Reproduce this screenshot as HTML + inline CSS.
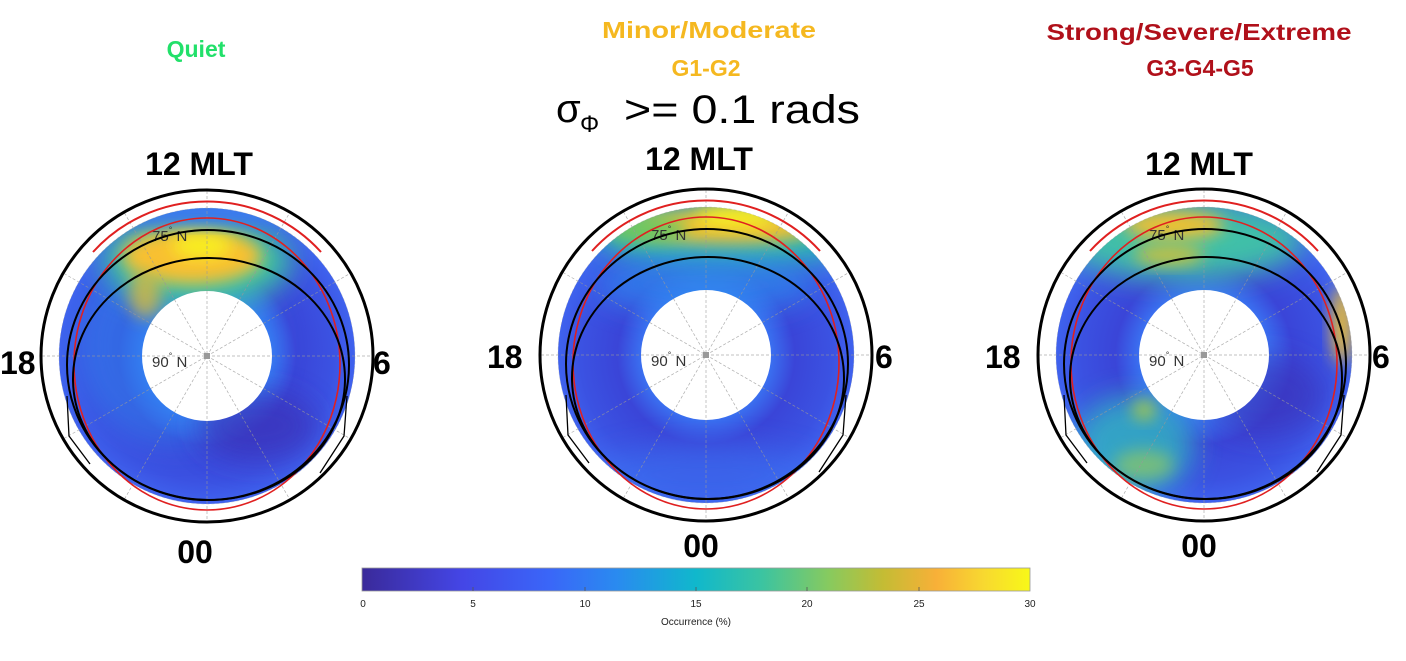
<!DOCTYPE html>
<html><head><meta charset="utf-8"><style>
html,body{margin:0;padding:0;background:#fff;}
svg{display:block;}
text{font-family:"Liberation Sans",sans-serif;}
</style></head><body>
<svg width="1406" height="661" viewBox="0 0 1406 661" xmlns="http://www.w3.org/2000/svg">
<defs>
  <mask id="ring">
    <rect x="-200" y="-200" width="400" height="400" fill="black"/>
    <circle r="148" fill="white"/>
    <circle r="65" fill="black"/>
  </mask>
  <filter id="b8" x="-50%" y="-50%" width="200%" height="200%"><feGaussianBlur stdDeviation="8"/></filter>
  <filter id="b14" x="-50%" y="-50%" width="200%" height="200%"><feGaussianBlur stdDeviation="14"/></filter>
  <radialGradient id="rad1" cx="0" cy="0" r="148" gradientUnits="userSpaceOnUse">
    <stop offset="0.44" stop-color="#3a6ff0"/>
    <stop offset="0.6" stop-color="#3a45d8"/>
    <stop offset="0.85" stop-color="#3b52e2"/>
    <stop offset="1" stop-color="#3f62ee"/>
  </radialGradient>
  <linearGradient id="cb" x1="0" x2="1" y1="0" y2="0">
    <stop offset="0" stop-color="#3a2a9a"/>
    <stop offset="0.15" stop-color="#4446e6"/>
    <stop offset="0.28" stop-color="#3a66f8"/>
    <stop offset="0.38" stop-color="#2a8af0"/>
    <stop offset="0.5" stop-color="#10b8cc"/>
    <stop offset="0.6" stop-color="#3cc4a0"/>
    <stop offset="0.7" stop-color="#88ca5e"/>
    <stop offset="0.78" stop-color="#c4bc34"/>
    <stop offset="0.86" stop-color="#f8b038"/>
    <stop offset="0.93" stop-color="#f8d830"/>
    <stop offset="1" stop-color="#f8f818"/>
  </linearGradient>
  <g id="over">
    <g stroke="#999" stroke-width="0.7" stroke-dasharray="3,2" fill="none" opacity="0.8">
      <line x1="-165" y1="0" x2="165" y2="0"/>
      <line x1="0" y1="-165" x2="0" y2="165"/>
      <line x1="-143" y1="-82.5" x2="143" y2="82.5"/>
      <line x1="-143" y1="82.5" x2="143" y2="-82.5"/>
      <line x1="-82.5" y1="-143" x2="82.5" y2="143"/>
      <line x1="-82.5" y1="143" x2="82.5" y2="-143"/>
      <circle r="148" opacity="0.5"/>
    </g>
    <rect x="-3" y="-3" width="6" height="6" fill="#999"/>
    <text x="-55" y="-115" font-size="15" fill="#333">75<tspan font-size="9" dy="-8">°</tspan><tspan dy="8"> N</tspan></text>
    <text x="-55" y="11" font-size="15" fill="#333">90<tspan font-size="9" dy="-8">°</tspan><tspan dy="8"> N</tspan></text>
    <ellipse cx="0" cy="8" rx="133" ry="146" fill="none" stroke="#e02020" stroke-width="1.6"/>
    <path d="M -114 -104 A 154 154 0 0 1 114 -104" fill="none" stroke="#e02020" stroke-width="2"/>
    <ellipse cx="1" cy="9" rx="141" ry="135" fill="none" stroke="#000" stroke-width="2"/>
    <ellipse cx="2" cy="23" rx="136" ry="121" fill="none" stroke="#000" stroke-width="2"/>
    <path d="M -140 40 L -138 80 L -117 108" fill="none" stroke="#000" stroke-width="1.3"/>
    <path d="M 140 40 L 137 80 L 113 117" fill="none" stroke="#000" stroke-width="1.3"/>
    <circle r="166" fill="none" stroke="#000" stroke-width="3"/>
  </g>
</defs>

<!-- Titles -->
<text x="196" y="57" font-size="23" font-weight="bold" fill="#22e06a" text-anchor="middle">Quiet</text>
<text x="709" y="38" font-size="23" font-weight="bold" fill="#f5b820" text-anchor="middle" textLength="214" lengthAdjust="spacingAndGlyphs">Minor/Moderate</text>
<text x="706" y="76" font-size="23" font-weight="bold" fill="#f5b820" text-anchor="middle">G1-G2</text>
<text x="1199" y="40" font-size="23" font-weight="bold" fill="#b0101a" text-anchor="middle" textLength="305" lengthAdjust="spacingAndGlyphs">Strong/Severe/Extreme</text>
<text x="1200" y="76" font-size="23" font-weight="bold" fill="#b0101a" text-anchor="middle">G3-G4-G5</text>
<text x="556" y="122" font-size="40" font-family="Liberation Serif,serif" fill="#000">σ</text>
<text x="580" y="132" font-size="24" font-family="Liberation Serif,serif" fill="#000">Φ</text>
<text x="624" y="123" font-size="40" fill="#000" textLength="236" lengthAdjust="spacingAndGlyphs">&gt;= 0.1 rads</text>

<!-- Plot 1 -->
<g transform="translate(207,356)">
  <g mask="url(#ring)">
    <circle r="150" fill="url(#rad1)"/>
    <circle r="100" cx="-30" cy="-10" fill="#2f8af0" opacity="0.5" filter="url(#b14)"/>
    <ellipse cx="-10" cy="-95" rx="95" ry="45" fill="#3cc4a0" filter="url(#b14)"/>
    <ellipse cx="-15" cy="-100" rx="70" ry="28" fill="#f8c030" filter="url(#b8)"/>
    <ellipse cx="-5" cy="-110" rx="30" ry="12" fill="#f8f020" filter="url(#b8)"/>
    <ellipse cx="-62" cy="-62" rx="16" ry="24" fill="#d8b840" opacity="0.8" filter="url(#b8)"/>
    <ellipse cx="50" cy="70" rx="60" ry="35" fill="#3a30b8" opacity="0.7" filter="url(#b14)"/>
    <ellipse cx="0" cy="-145" rx="150" ry="12" fill="#3a7af0" filter="url(#b8)"/>
  </g>
  <use href="#over"/>
</g>

<!-- Plot 2 -->
<g transform="translate(706,355)">
  <g mask="url(#ring)">
    <circle r="150" fill="url(#rad1)"/>
    <ellipse cx="20" cy="-120" rx="130" ry="35" fill="#2fbab0" filter="url(#b14)"/>
    <ellipse cx="20" cy="-128" rx="90" ry="18" fill="#f0c030" filter="url(#b8)"/>
    <ellipse cx="30" cy="-138" rx="40" ry="10" fill="#f8f020" filter="url(#b8)"/>
    <ellipse cx="-60" cy="-125" rx="40" ry="14" fill="#70c860" filter="url(#b8)"/>
    <ellipse cx="0" cy="-70" rx="110" ry="30" fill="#2f8af0" opacity="0.7" filter="url(#b14)"/>
    <ellipse cx="0" cy="120" rx="120" ry="30" fill="#3a6ff0" opacity="0.6" filter="url(#b14)"/>
  </g>
  <use href="#over"/>
</g>

<!-- Plot 3 -->
<g transform="translate(1204,355)">
  <g mask="url(#ring)">
    <circle r="150" fill="url(#rad1)"/>
    <ellipse cx="-20" cy="-115" rx="120" ry="40" fill="#40c0a8" filter="url(#b14)"/>
    <ellipse cx="-30" cy="-130" rx="50" ry="14" fill="#f0c030" filter="url(#b8)"/>
    <ellipse cx="-35" cy="-100" rx="35" ry="10" fill="#c8c040" filter="url(#b8)"/>
    <ellipse cx="138" cy="-30" rx="10" ry="40" fill="#f0c030" filter="url(#b8)"/>
    <ellipse cx="-70" cy="90" rx="60" ry="50" fill="#30b8c0" opacity="0.8" filter="url(#b14)"/>
    <ellipse cx="-60" cy="110" rx="30" ry="15" fill="#90c860" opacity="0.7" filter="url(#b8)"/>
    <ellipse cx="-60" cy="55" rx="12" ry="10" fill="#a0c850" filter="url(#b8)"/>
    <ellipse cx="60" cy="40" rx="60" ry="40" fill="#3a30b8" opacity="0.6" filter="url(#b14)"/>
  </g>
  <use href="#over"/>
</g>

<!-- Axis labels -->
<g font-size="32" font-weight="bold" fill="#000">
  <text x="199" y="175" text-anchor="middle">12 MLT</text>
  <text x="699" y="170" text-anchor="middle">12 MLT</text>
  <text x="1199" y="175" text-anchor="middle">12 MLT</text>
  <text x="0" y="374">18</text>
  <text x="373" y="374">6</text>
  <text x="487" y="368">18</text>
  <text x="875" y="368">6</text>
  <text x="985" y="368">18</text>
  <text x="1372" y="368">6</text>
  <text x="195" y="563" text-anchor="middle">00</text>
  <text x="701" y="557" text-anchor="middle">00</text>
  <text x="1199" y="557" text-anchor="middle">00</text>
</g>

<!-- Colorbar -->
<rect x="362" y="568" width="668" height="23" fill="url(#cb)" stroke="#999" stroke-width="0.8"/>
<g stroke="#555" stroke-width="0.8">
  <line x1="473" y1="591" x2="473" y2="587"/><line x1="585" y1="591" x2="585" y2="587"/>
  <line x1="696" y1="591" x2="696" y2="587"/><line x1="807" y1="591" x2="807" y2="587"/>
  <line x1="919" y1="591" x2="919" y2="587"/>
</g>
<g font-size="10" fill="#222" text-anchor="middle">
  <text x="363" y="607">0</text><text x="473" y="607">5</text><text x="585" y="607">10</text>
  <text x="696" y="607">15</text><text x="807" y="607">20</text><text x="919" y="607">25</text>
  <text x="1030" y="607">30</text>
  <text x="696" y="625">Occurrence (%)</text>
</g>
</svg>
</body></html>
